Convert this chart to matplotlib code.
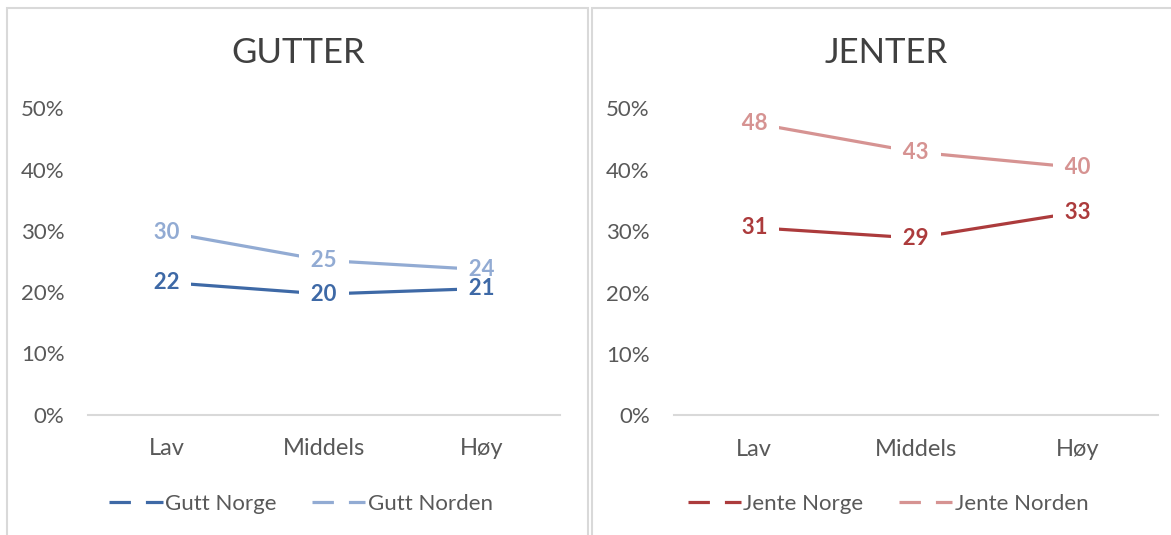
import matplotlib
matplotlib.use("Agg")
import matplotlib.pyplot as plt
from matplotlib.lines import Line2D
from matplotlib.patches import Rectangle
from matplotlib.ticker import FuncFormatter

plt.rcParams['font.family'] = ['Lato', 'DejaVu Sans']

categories = ["Lav", "Middels", "Høy"]
gutt_norge = [21.6, 19.7, 20.6]
gutt_norden = [29.8, 25.2, 23.7]
jente_norge = [30.6, 28.9, 33.1]
jente_norden = [47.6, 42.9, 40.4]
yticks = [0, 10, 20, 30, 40, 50]

panels = [
    dict(title="GUTTER", rect=[88/1171, 1-414.7/535, 472/1171, (414.7-108.5)/535],
         series=[("Gutt Norge", gutt_norge, "#3E69A6"), ("Gutt Norden", gutt_norden, "#92ABD3")],
         title_x=298/1171, leg_x=301/1171),
    dict(title="JENTER", rect=[673.5/1171, 1-415.4/535, 484.8/1171, (415.4-108.5)/535],
         series=[("Jente Norge", jente_norge, "#AC3B3C"), ("Jente Norden", jente_norden, "#D69392")],
         title_x=886/1171, leg_x=888/1171),
]

fig = plt.figure(figsize=(11.71, 5.35), dpi=100)

# panel borders
fig.patches.append(Rectangle((7/1171, -0.05), 581/1171, 1.05 - 7.5/535, transform=fig.transFigure,
                             fill=False, edgecolor="#D9D9D9", linewidth=1.5))
fig.patches.append(Rectangle((591.5/1171, -0.05), 590/1171, 1.05 - 7.5/535, transform=fig.transFigure,
                             fill=False, edgecolor="#D9D9D9", linewidth=1.5))

x = list(range(len(categories)))
for p in panels:
    ax = fig.add_axes(p["rect"])
    handles = []
    for si, (name, vals, col) in enumerate(p["series"]):
        ax.plot(x, vals, color=col, linewidth=2.3, solid_capstyle='butt', zorder=2)
        for xi, v in zip(x, vals):
            ax.text(xi, v, f"  {round(v):d}  ", color=col, fontsize=16, fontweight='bold',
                    ha='center', va='center', zorder=4 - si,
                    bbox=dict(boxstyle='square,pad=0.05', facecolor='white', edgecolor='none'))
        handles.append(Line2D([0], [0], color=col, linewidth=2.3, linestyle=(0, (6.7, 4.7)),
                              dash_capstyle='butt', label=name))
    ax.set_xlim(-0.5, 2.5)
    ax.set_ylim(0, 50)
    ax.set_xticks(x)
    ax.set_xticklabels(categories)
    ax.set_yticks(yticks)
    ax.yaxis.set_major_formatter(FuncFormatter(lambda v, pos: f"{int(v)}%"))
    for s in ["top", "right", "left"]:
        ax.spines[s].set_visible(False)
    ax.spines["bottom"].set_color("#D9D9D9")
    ax.spines["bottom"].set_linewidth(1.5)
    ax.tick_params(axis='y', length=0, colors="#595959", labelsize=16, pad=17)
    ax.tick_params(axis='x', length=0, colors="#595959", labelsize=17, pad=17)
    ax.set_facecolor('none')
    fig.text(p["title_x"], 1 - 53/535, p["title"], ha='center', va='center',
             fontsize=25, color="#404040")
    fig.legend(handles=handles, loc='center', bbox_to_anchor=(p["leg_x"], 1 - 504/535),
               ncol=2, frameon=False, fontsize=16, handlelength=2.4, handletextpad=0.1,
               columnspacing=1.6, labelcolor="#595959")

fig.savefig("out.png", dpi=100, facecolor='white')
